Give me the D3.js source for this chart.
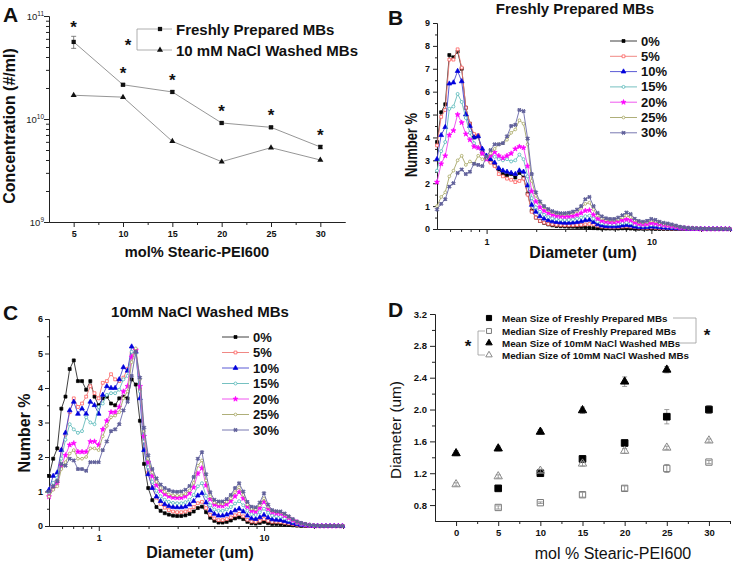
<!DOCTYPE html>
<html>
<head>
<meta charset="utf-8">
<script src="https://cdn.jsdelivr.net/npm/d3@7"></script>
<style>
  body { margin: 0; background: #fff; }
</style>
</head>
<body>
<div id="chart"></div>
<script>
// ---------------- data ----------------

// panel A : concentration vs mol%
const molPctA = [5, 10, 15, 20, 25, 30];
const freshConc = [5.6e10, 2.15e10, 1.83e10, 9.15e9, 8.3e9, 5.35e9];
const freshConcErr = [0.75e10, 0.05e10, 0.05e10, 0.02e10, 0.02e10, 0.02e10];
const washedConc = [1.7e10, 1.63e10, 6.07e9, 3.85e9, 5.27e9, 4.0e9];
const concTicks = [1e9, 1e10, 1e11];

// panels B and C : size bins (um)
const diam = [0.500, 0.530, 0.561, 0.594, 0.629, 0.667, 0.706, 0.748, 0.792, 0.839,
  0.889, 0.942, 0.998, 1.057, 1.119, 1.186, 1.256, 1.330, 1.409, 1.493,
  1.581, 1.675, 1.774, 1.879, 1.991, 2.108, 2.233, 2.366, 2.506, 2.654,
  2.812, 2.978, 3.155, 3.342, 3.540, 3.749, 3.972, 4.207, 4.456, 4.720,
  5.00, 5.30, 5.61, 5.94, 6.29, 6.67, 7.06, 7.48, 7.92, 8.39,
  8.89, 9.42, 9.98, 10.57, 11.19, 11.86, 12.56, 13.30, 14.09, 14.93,
  15.81, 16.75, 17.74, 18.79, 19.91, 21.08, 22.33, 23.66, 25.06, 26.54,
  28.12, 29.78];
const seriesNames = ["0%", "5%", "10%", "15%", "20%", "25%", "30%"];

// B : freshly prepared, number %
const freshP0 = [3.8, 5.1, 5.45, 7.6, 7.5, 7.75, 7.0, 5.3, 4.6, 4.0,
  4.05, 3.35, 3.1, 2.95, 2.8, 2.6, 2.4, 2.35, 2.4, 2.25,
  2.45, 2.25, 1.55, 0.8, 0.5, 0.35, 0.27, 0.2, 0.16, 0.13,
  0.12, 0.11, 0.1, 0.1, 0.09, 0.08, 0.07, 0.05, 0.04, 0.03,
  0.02, 0.02, 0.02, 0.02, 0.02, 0.03, 0.03, 0.02, 0.01, 0.01,
  0.01, 0.01, 0.01, 0, 0, 0, 0, 0, 0, 0,
  0, 0, 0, 0, 0, 0, 0, 0, 0, 0,
  0, 0];
const freshP5 = [3.65, 4.9, 5.2, 7.4, 7.4, 7.85, 7.05, 5.3, 4.6, 4.15,
  4.1, 3.3, 3.05, 2.9, 2.75, 2.4, 2.3, 2.2, 2.15, 2.05,
  2.1, 2.2, 1.5, 0.75, 0.5, 0.35, 0.28, 0.22, 0.2, 0.18,
  0.17, 0.16, 0.16, 0.16, 0.17, 0.18, 0.2, 0.22, 0.2, 0.14,
  0.1, 0.08, 0.07, 0.07, 0.08, 0.1, 0.11, 0.1, 0.08, 0.06,
  0.05, 0.05, 0.06, 0.05, 0.04, 0.03, 0.03, 0.02, 0.02, 0.01,
  0.01, 0, 0, 0, 0, 0, 0, 0, 0, 0,
  0, 0];
const freshP10 = [3.05, 4.1, 4.45, 6.35, 6.4, 6.9, 6.45, 5.0, 4.5, 4.0,
  4.05, 3.5, 3.2, 3.05, 2.9, 2.65, 2.55, 2.5, 2.45, 2.4,
  2.55, 2.5, 1.9, 1.05, 0.75, 0.55, 0.45, 0.38, 0.33, 0.3,
  0.28, 0.27, 0.27, 0.28, 0.3, 0.33, 0.38, 0.4, 0.3, 0.2,
  0.15, 0.12, 0.11, 0.11, 0.12, 0.15, 0.17, 0.15, 0.1, 0.08,
  0.07, 0.08, 0.1, 0.09, 0.07, 0.06, 0.05, 0.04, 0.03, 0.02,
  0.02, 0.01, 0.01, 0, 0, 0, 0, 0, 0, 0,
  0, 0];
const freshP15 = [2.55, 3.4, 3.8, 5.25, 5.35, 5.9, 5.55, 4.85, 4.2, 3.75,
  3.55, 3.3, 3.15, 3.2, 3.15, 3.05, 3.0, 3.05, 2.95, 3.0,
  3.25, 3.05, 2.3, 1.35, 0.95, 0.75, 0.62, 0.52, 0.46, 0.43,
  0.41, 0.4, 0.4, 0.42, 0.45, 0.5, 0.56, 0.58, 0.45, 0.32,
  0.25, 0.22, 0.2, 0.2, 0.22, 0.26, 0.28, 0.25, 0.18, 0.14,
  0.13, 0.14, 0.17, 0.16, 0.13, 0.11, 0.1, 0.08, 0.06, 0.04,
  0.03, 0.02, 0.01, 0, 0, 0, 0, 0, 0, 0,
  0, 0];
const freshP20 = [2.05, 2.85, 3.2, 4.1, 4.3, 5.0, 4.65, 4.15, 3.9, 3.6,
  3.55, 3.3, 3.05, 3.2, 3.35, 3.2, 3.1, 3.2, 3.3, 3.5,
  3.6, 3.55, 2.75, 1.65, 1.2, 0.95, 0.8, 0.7, 0.62, 0.57,
  0.55, 0.54, 0.55, 0.57, 0.62, 0.7, 0.8, 0.82, 0.62, 0.45,
  0.36, 0.32, 0.3, 0.3, 0.33, 0.38, 0.42, 0.38, 0.28, 0.22,
  0.2, 0.22, 0.26, 0.24, 0.2, 0.17, 0.15, 0.12, 0.09, 0.06,
  0.04, 0.03, 0.02, 0.01, 0, 0, 0, 0, 0, 0,
  0, 0];
const freshP25 = [1.0, 1.4, 1.6, 2.3, 2.55, 3.0, 3.2, 2.8, 2.95, 2.85,
  3.2, 3.05, 3.1, 3.3, 3.5, 3.7, 3.75, 3.9, 4.2, 4.35,
  4.75, 4.6, 3.7, 2.1, 1.45, 1.15, 0.95, 0.82, 0.73, 0.68,
  0.65, 0.64, 0.66, 0.7, 0.78, 0.92, 1.1, 1.15, 0.85, 0.6,
  0.46, 0.4, 0.38, 0.38, 0.42, 0.5, 0.58, 0.52, 0.38, 0.3,
  0.27, 0.3, 0.36, 0.33, 0.27, 0.22, 0.2, 0.17, 0.13, 0.09,
  0.06, 0.04, 0.03, 0.02, 0.01, 0, 0, 0, 0, 0,
  0, 0];
const freshP30 = [0.85, 1.1, 1.3, 1.85, 2.0, 2.45, 2.6, 2.4, 2.5, 2.85,
  2.8, 2.75, 3.15, 3.45, 3.7, 3.7, 3.75, 4.05, 4.5, 4.55,
  5.2, 5.15, 3.95, 2.4, 1.6, 1.2, 1.0, 0.87, 0.78, 0.72,
  0.69, 0.69, 0.71, 0.76, 0.85, 1.0, 1.3, 1.4, 1.0, 0.7,
  0.55, 0.47, 0.44, 0.44, 0.5, 0.6, 0.72, 0.65, 0.45, 0.35,
  0.32, 0.36, 0.44, 0.4, 0.32, 0.27, 0.24, 0.2, 0.15, 0.1,
  0.07, 0.05, 0.04, 0.03, 0.02, 0.01, 0, 0, 0, 0,
  0, 0];

// C : 10mM NaCl washed, number %
const washedP0 = [1.45, 1.95, 2.25, 3.4, 3.75, 4.55, 4.8, 4.2, 4.2, 3.95,
  4.2, 3.75, 3.5, 3.7, 3.75, 3.55, 3.5, 3.7, 3.75, 3.7,
  4.25, 4.1, 3.05, 1.8, 1.1, 0.75, 0.55, 0.44, 0.37, 0.33,
  0.3, 0.29, 0.29, 0.31, 0.35, 0.42, 0.52, 0.56, 0.4, 0.24,
  0.15, 0.1, 0.1, 0.12, 0.16, 0.22, 0.25, 0.2, 0.12, 0.08,
  0.07, 0.09, 0.12, 0.08, 0.06, 0.06, 0.05, 0.04, 0.03, 0.02,
  0.01, 0, 0, 0, 0, 0, 0, 0, 0, 0,
  0, 0];
const washedP5 = [0.9, 1.15, 1.3, 2.2, 2.65, 3.3, 3.7, 3.45, 3.55, 3.75,
  4.05, 3.85, 3.7, 4.15, 4.2, 4.4, 4.25, 4.2, 4.3, 4.55,
  5.0, 5.1, 3.95, 2.45, 1.55, 1.1, 0.82, 0.64, 0.53, 0.46,
  0.42, 0.4, 0.4, 0.42, 0.46, 0.55, 0.66, 0.7, 0.52, 0.32,
  0.22, 0.17, 0.17, 0.2, 0.25, 0.31, 0.35, 0.28, 0.18, 0.13,
  0.12, 0.15, 0.2, 0.15, 0.12, 0.12, 0.11, 0.09, 0.07, 0.05,
  0.03, 0.02, 0.01, 0, 0, 0, 0, 0, 0, 0,
  0, 0];
const washedP10 = [1.05, 1.45, 1.55, 2.2, 2.7, 3.35, 3.6, 3.25, 3.4, 3.25,
  3.6, 3.5, 3.25, 3.8, 4.05, 4.0, 4.0, 4.25, 4.6, 4.5,
  5.2, 5.05, 3.7, 2.2, 1.5, 1.1, 0.85, 0.72, 0.63, 0.58,
  0.55, 0.54, 0.54, 0.56, 0.62, 0.72, 0.88, 0.95, 0.68, 0.45,
  0.35, 0.3, 0.3, 0.33, 0.38, 0.45, 0.5, 0.42, 0.3, 0.22,
  0.2, 0.25, 0.32, 0.24, 0.19, 0.18, 0.17, 0.14, 0.11, 0.08,
  0.05, 0.03, 0.02, 0.01, 0, 0, 0, 0, 0, 0,
  0, 0];
const washedP15 = [0.95, 1.25, 1.4, 1.95, 2.5, 2.95, 2.8, 2.7, 2.75, 3.15,
  3.0, 2.95, 3.45, 3.55, 3.8, 3.85, 3.85, 3.95, 4.25, 4.35,
  5.05, 5.0, 3.9, 2.45, 1.7, 1.28, 1.02, 0.86, 0.76, 0.7,
  0.67, 0.66, 0.66, 0.69, 0.76, 0.9, 1.15, 1.24, 0.88, 0.6,
  0.48, 0.44, 0.44, 0.48, 0.55, 0.65, 0.72, 0.6, 0.44, 0.34,
  0.32, 0.4, 0.5, 0.38, 0.3, 0.28, 0.27, 0.22, 0.17, 0.12,
  0.08, 0.05, 0.03, 0.02, 0.01, 0, 0, 0, 0, 0,
  0, 0];
const washedP20 = [0.85, 1.1, 1.25, 1.75, 2.05, 2.35, 2.4, 2.15, 2.15, 2.15,
  2.45, 2.45, 2.35, 2.8, 3.05, 3.3, 3.3, 3.45, 3.9, 4.05,
  4.9, 5.1, 4.05, 2.6, 1.85, 1.45, 1.18, 1.02, 0.92, 0.86,
  0.83, 0.82, 0.82, 0.86, 0.95, 1.12, 1.52, 1.68, 1.18, 0.78,
  0.62, 0.58, 0.58, 0.63, 0.72, 0.86, 0.98, 0.8, 0.56, 0.44,
  0.42, 0.52, 0.7, 0.5, 0.4, 0.37, 0.36, 0.3, 0.23, 0.16,
  0.11, 0.07, 0.04, 0.02, 0.01, 0, 0, 0, 0, 0,
  0, 0];
const washedP25 = [0.85, 1.05, 1.15, 1.65, 1.85, 2.1, 2.2, 1.95, 1.95, 2.0,
  2.25, 2.25, 2.2, 2.6, 2.9, 3.15, 3.2, 3.3, 3.7, 3.9,
  4.75, 5.15, 4.25, 2.75, 1.95, 1.55, 1.28, 1.1, 0.99, 0.92,
  0.89, 0.88, 0.89, 0.93, 1.03, 1.25, 1.75, 1.9, 1.32, 0.86,
  0.68, 0.64, 0.64, 0.7, 0.8, 0.98, 1.12, 0.9, 0.62, 0.5,
  0.48, 0.6, 0.8, 0.56, 0.44, 0.41, 0.4, 0.34, 0.26, 0.18,
  0.12, 0.08, 0.05, 0.03, 0.01, 0, 0, 0, 0, 0,
  0, 0];
const washedP30 = [1.0, 1.15, 1.3, 1.8, 1.75, 1.95, 1.9, 1.65, 1.65, 1.6,
  1.85, 1.85, 1.85, 2.2, 2.45, 2.75, 2.8, 2.95, 3.35, 3.6,
  4.35, 5.05, 4.3, 2.85, 2.05, 1.65, 1.38, 1.2, 1.1, 1.04,
  1.0, 0.99, 1.0, 1.05, 1.16, 1.42, 1.95, 2.14, 1.5, 0.98,
  0.76, 0.71, 0.71, 0.78, 0.9, 1.1, 1.24, 1.0, 0.7, 0.56,
  0.54, 0.68, 0.95, 0.62, 0.46, 0.43, 0.42, 0.36, 0.28, 0.2,
  0.13, 0.09, 0.06, 0.03, 0.02, 0.01, 0, 0, 0, 0,
  0, 0];

// panel D : diameter vs mol%
const molPctD = [0, 5, 10, 15, 20, 25, 30];
const meanFresh = [null, 1.01, 1.2, 1.38, 1.58, 1.91, 2.0];
const meanFreshErr = [null, 0.02, 0.02, 0.03, 0.02, 0.09, 0.05];
const medianFresh = [null, 0.77, 0.83, 0.93, 1.01, 1.26, 1.34];
const medianFreshErr = [null, 0.02, 0.01, 0.03, 0.03, 0.05, 0.02];
const meanWashed = [1.45, 1.51, 1.72, 1.99, 2.35, 2.5, null];
const meanWashedErr = [0.03, 0.03, 0.03, 0.04, 0.06, 0.04, null];
const medianWashed = [1.06, 1.16, 1.23, 1.32, 1.48, 1.52, 1.61];
const medianWashedErr = [0.02, 0.02, 0.02, 0.03, 0.03, 0.02, 0.02];

// ---------------- setup ----------------
const FONT = '"Liberation Sans", Arial, Helvetica, sans-serif';
const svg = d3.select("#chart").append("svg")
  .attr("width", 734).attr("height", 565)
  .attr("font-family", FONT);

function addAxis(g, axis, transform, fs, bold) {
  const a = g.append("g").attr("transform", transform).call(axis);
  a.attr("font-family", FONT).attr("font-size", fs)
   .attr("font-weight", bold ? "bold" : "normal");
  a.select(".domain").attr("stroke", "#222");
  a.selectAll(".tick line").attr("stroke", "#222");
  a.selectAll(".tick text").attr("fill", "#111");
  return a;
}

function label(g, txt, x, y, opt) {
  opt = opt || {};
  const t = g.append("text").attr("x", x).attr("y", y)
    .attr("text-anchor", opt.anchor || "middle")
    .attr("font-size", opt.size || 15)
    .attr("font-weight", opt.bold === false ? "normal" : "bold")
    .attr("fill", opt.fill || "#111")
    .text(txt);
  if (opt.rotate) t.attr("transform", `rotate(-90,${x},${y})`);
  if (opt.len) t.attr("textLength", opt.len).attr("lengthAdjust", "spacingAndGlyphs");
  return t;
}

// ---------------- panel A ----------------
const gA = svg.append("g");
const xA = d3.scaleLinear().domain([2.5, 32.5]).range([49, 345]);
const yA = d3.scaleLog().domain([1e9, 1e11]).range([222, 16]);

addAxis(gA, d3.axisBottom(xA).tickValues(molPctA).tickSize(5).tickSizeOuter(0)
  .tickPadding(4).tickFormat(d3.format("d")), "translate(0,222)", 9, true);
addAxis(gA, d3.axisBottom(xA).tickValues([7.5, 12.5, 17.5, 22.5, 27.5]).tickSize(3)
  .tickSizeOuter(0).tickFormat(""), "translate(0,222)", 9, true);
addAxis(gA, d3.axisLeft(yA).tickValues(concTicks).tickSize(5).tickSizeOuter(0)
  .tickFormat(""), "translate(49,0)", 9, false);
const concMinor = [2, 3, 4, 5, 6, 7, 8, 9].flatMap(m => [m * 1e9, m * 1e10]);
addAxis(gA, d3.axisLeft(yA).tickValues(concMinor).tickSize(3).tickSizeOuter(0)
  .tickFormat(""), "translate(49,0)", 9, false);

gA.selectAll(".ylab").data(concTicks).join("text")
  .attr("x", 44).attr("y", d => yA(d) + 4)
  .attr("text-anchor", "end").attr("font-size", 9.5).attr("fill", "#222")
  .each(function(d) {
    const t = d3.select(this);
    t.append("tspan").text("10");
    t.append("tspan").attr("dy", -4.5).attr("font-size", 6.5).text(Math.round(Math.log10(d)));
  });

const lineA = d3.line().x((d, i) => xA(molPctA[i])).y(d => yA(d));
gA.append("path").datum(freshConc).attr("d", lineA)
  .attr("fill", "none").attr("stroke", "#8a8a8a").attr("stroke-width", 0.9);
gA.append("path").datum(washedConc).attr("d", lineA)
  .attr("fill", "none").attr("stroke", "#8a8a8a").attr("stroke-width", 0.9);

// error bars
freshConc.forEach((v, i) => {
  const cx = xA(molPctA[i]);
  const e = freshConcErr[i];
  gA.append("path")
    .attr("d", `M${cx},${yA(v - e)}V${yA(v + e)}M${cx - 2.5},${yA(v + e)}H${cx + 2.5}M${cx - 2.5},${yA(v - e)}H${cx + 2.5}`)
    .attr("stroke", "#666").attr("stroke-width", 0.8).attr("fill", "none");
});

gA.selectAll(".mf").data(freshConc).join("path")
  .attr("transform", (d, i) => `translate(${xA(molPctA[i])},${yA(d)})`)
  .attr("d", d3.symbol(d3.symbolSquare, 18)).attr("fill", "#111");
gA.selectAll(".mw").data(washedConc).join("path")
  .attr("transform", (d, i) => `translate(${xA(molPctA[i])},${yA(d)})`)
  .attr("d", d3.symbol(d3.symbolTriangle, 16)).attr("fill", "#111");

// significance stars
gA.selectAll(".star").data(freshConc).join("text")
  .attr("x", (d, i) => xA(molPctA[i])).attr("y", (d, i) => yA(d) - 6 - (i === 0 ? 3 : 0))
  .attr("text-anchor", "middle").attr("font-size", 17).attr("font-weight", "bold")
  .attr("fill", "#111").text("*");

// legend A
gA.append("path").attr("d", "M141,29H172M141,50H172").attr("stroke", "#999")
  .attr("stroke-width", 0.8);
gA.append("path").attr("d", "M141,29H137V50H141").attr("stroke", "#999")
  .attr("stroke-width", 0.8).attr("fill", "none");
gA.append("path").attr("transform", "translate(160,29)")
  .attr("d", d3.symbol(d3.symbolSquare, 18)).attr("fill", "#111");
gA.append("path").attr("transform", "translate(160,50)")
  .attr("d", d3.symbol(d3.symbolTriangle, 16)).attr("fill", "#111");
label(gA, "Freshly Prepared MBs", 176, 34.5, { anchor: "start", size: 15 });
label(gA, "10 mM NaCl Washed MBs", 176, 55.5, { anchor: "start", size: 15 });
label(gA, "*", 128, 51, { size: 17 });

label(gA, "A", 3, 22, { anchor: "start", size: 21 });
label(gA, "Concentration (#/ml)", 15, 126, { size: 16, rotate: true });
label(gA, "mol% Stearic-PEI600", 197, 257, { size: 14.6 });

// ---------------- panels B and C ----------------
const lineColors = ["#2a2a2a", "#ee7a76", "#4848d0", "#66baba", "#ee44ee", "#a6a66a", "#6a6aa8"];
const markStroke = ["#000", "#ff4c4c", "#0000dd", "#3fb0b0", "#ff00ff", "#9c9c4c", "#54548e"];
const markFill = ["#000", "#fff", "#0000dd", "#fff", "#ff00ff", "#fff", "#6464a0"];
const markType = [d3.symbolSquare, d3.symbolSquare, d3.symbolTriangle, d3.symbolCircle,
  d3.symbolStar, d3.symbolCircle, d3.symbolCross];
const markSize = [9, 8, 10, 7, 8, 6, 8];
const diamMinor = [0.6, 0.7, 0.8, 0.9, 2, 3, 4, 5, 6, 7, 8, 9, 20, 30];

function drawDist(g, cfg) {
  const x = d3.scaleLog().domain([0.5, 30]).range([cfg.left, cfg.right]);
  const y = d3.scaleLinear().domain([0, cfg.ymax]).range([cfg.bottom, cfg.top]);

  addAxis(g, d3.axisBottom(x).tickValues([1, 10]).tickSize(5).tickSizeOuter(0)
    .tickPadding(cfg.xpad).tickFormat(d3.format("d")), `translate(0,${cfg.bottom})`, 9, true);
  addAxis(g, d3.axisBottom(x).tickValues(diamMinor).tickSize(3).tickSizeOuter(0)
    .tickFormat(""), `translate(0,${cfg.bottom})`, 9, true);
  addAxis(g, d3.axisLeft(y).tickValues(d3.range(0, cfg.ymax + 1)).tickSize(4).tickSizeOuter(0)
    .tickPadding(cfg.ypad).tickFormat(d3.format("d")), `translate(${cfg.left},0)`, 9, true);
  addAxis(g, d3.axisLeft(y).tickValues(d3.range(0.5, cfg.ymax, 1)).tickSize(2).tickSizeOuter(0)
    .tickFormat(""), `translate(${cfg.left},0)`, 9, true);

  const line = d3.line().x(d => x(d[0])).y(d => y(d[1]));
  cfg.series.forEach((vals, k) => {
    const pts = vals.map((v, i) => [diam[i], v]);
    g.append("path").datum(pts).attr("d", line)
      .attr("fill", "none").attr("stroke", lineColors[k]).attr("stroke-width", 0.9);
    g.append("g").selectAll("path").data(pts).join("path")
      .attr("transform", d => `translate(${x(d[0])},${y(d[1])})` + (k === 6 ? " rotate(45)" : ""))
      .attr("d", d3.symbol(markType[k], markSize[k]))
      .attr("fill", markFill[k]).attr("stroke", markStroke[k]).attr("stroke-width", 0.7);
  });

  // legend
  seriesNames.forEach((name, k) => {
    const ly = cfg.legY + k * cfg.legStep;
    g.append("line").attr("x1", cfg.legX).attr("x2", cfg.legX + 27)
      .attr("y1", ly).attr("y2", ly).attr("stroke", lineColors[k]).attr("stroke-width", 0.9);
    g.append("path").attr("transform", `translate(${cfg.legX + 13.5},${ly})` + (k === 6 ? " rotate(45)" : ""))
      .attr("d", d3.symbol(markType[k], markSize[k]))
      .attr("fill", markFill[k]).attr("stroke", markStroke[k]).attr("stroke-width", 0.7);
    label(g, name, cfg.legX + 31, ly + 4.5, { anchor: "start", size: 13 });
  });
}

const gB = svg.append("g");
drawDist(gB, {
  left: 437, right: 730, top: 23, bottom: 229, ymax: 9, xpad: 5, ypad: 3,
  series: [freshP0, freshP5, freshP10, freshP15, freshP20, freshP25, freshP30],
  legX: 610, legY: 41, legStep: 15.3
});
label(gB, "B", 388, 25, { anchor: "start", size: 21 });
label(gB, "Freshly Prepared MBs", 575, 14, { size: 15 });
label(gB, "Number %", 417, 145, { size: 16, rotate: true, len: 64 });
label(gB, "Diameter (um)", 583, 258, { size: 16 });

const gC = svg.append("g");
drawDist(gC, {
  left: 49, right: 343, top: 319, bottom: 526, ymax: 6, xpad: 4, ypad: 2,
  series: [washedP0, washedP5, washedP10, washedP15, washedP20, washedP25, washedP30],
  legX: 222, legY: 337, legStep: 15.5
});
label(gC, "C", 3, 320, { anchor: "start", size: 21 });
label(gC, "10mM NaCl Washed MBs", 200, 317, { size: 15 });
label(gC, "Number %", 30, 433, { size: 16, rotate: true });
label(gC, "Diameter (um)", 200, 558, { size: 16 });

// ---------------- panel D ----------------
const gD = svg.append("g");
const xD = d3.scaleLinear().domain([-2.5, 32.5]).range([435, 730]);
const yD = d3.scaleLinear().domain([0.6, 3.2]).range([521, 314]);

addAxis(gD, d3.axisBottom(xD).tickValues(molPctD).tickSize(5).tickSizeOuter(0)
  .tickPadding(3).tickFormat(d3.format("d")), "translate(0,521)", 9.5, true);
addAxis(gD, d3.axisBottom(xD).tickValues([2.5, 7.5, 12.5, 17.5, 22.5, 27.5, 32.5]).tickSize(3)
  .tickSizeOuter(0).tickFormat(""), "translate(0,521)", 9.5, true);
addAxis(gD, d3.axisLeft(yD).tickValues([0.8, 1.2, 1.6, 2.0, 2.4, 2.8, 3.2]).tickSize(5)
  .tickSizeOuter(0).tickPadding(3).tickFormat(d3.format(".1f")), "translate(435,0)", 9.5, true);
addAxis(gD, d3.axisLeft(yD).tickValues([1.0, 1.4, 1.8, 2.2, 2.6, 3.0]).tickSize(3)
  .tickSizeOuter(0).tickFormat(""), "translate(435,0)", 9.5, true);

const dSeries = [
  { vals: meanFresh, err: meanFreshErr, type: d3.symbolSquare, size: 44, fill: "#000", stroke: "#000",
    name: "Mean Size of Freshly Prepared MBs" },
  { vals: medianFresh, err: medianFreshErr, type: d3.symbolSquare, size: 40, fill: "none", stroke: "#7a7a7a",
    name: "Median Size of Freshly Prepared MBs" },
  { vals: meanWashed, err: meanWashedErr, type: d3.symbolTriangle, size: 30, fill: "#000", stroke: "#000",
    name: "Mean Size of 10mM NaCl Washed MBs" },
  { vals: medianWashed, err: medianWashedErr, type: d3.symbolTriangle, size: 30, fill: "none", stroke: "#8a8a8a",
    name: "Median Size of 10mM NaCl Washed MBs" }
];

dSeries.forEach(s => {
  s.vals.forEach((v, i) => {
    if (v === null) return;
    const cx = xD(molPctD[i]);
    const e = s.err[i];
    gD.append("path")
      .attr("d", `M${cx},${yD(v - e)}V${yD(v + e)}M${cx - 2.5},${yD(v + e)}H${cx + 2.5}M${cx - 2.5},${yD(v - e)}H${cx + 2.5}`)
      .attr("stroke", "#888").attr("stroke-width", 0.8).attr("fill", "none");
    gD.append("path").attr("transform", `translate(${cx},${yD(v)})`)
      .attr("d", d3.symbol(s.type, s.size))
      .attr("fill", s.fill).attr("stroke", s.stroke).attr("stroke-width", 1);
  });
});

// legend D
const legRowsD = [318, 331, 343, 355];
dSeries.forEach((s, k) => {
  gD.append("path").attr("transform", `translate(489,${legRowsD[k]})`)
    .attr("d", d3.symbol(s.type, s.size * 0.6))
    .attr("fill", s.fill).attr("stroke", s.stroke).attr("stroke-width", 1);
  label(gD, s.name, 502, legRowsD[k] + 3.5, { anchor: "start", size: 9.8 });
});
gD.append("path").attr("d", "M673,318H696V343H680").attr("stroke", "#999")
  .attr("stroke-width", 0.8).attr("fill", "none");
gD.append("path").attr("d", "M485,331H478V355H485").attr("stroke", "#999")
  .attr("stroke-width", 0.8).attr("fill", "none");
label(gD, "*", 707, 341, { size: 17 });
label(gD, "*", 468, 352, { size: 17 });

label(gD, "D", 388, 317, { anchor: "start", size: 21 });
label(gD, "Diameter (um)", 401, 430, { size: 15.3, rotate: true, bold: false });
label(gD, "mol % Stearic-PEI600", 613, 559, { size: 16, bold: false });
</script>
</body>
</html>
